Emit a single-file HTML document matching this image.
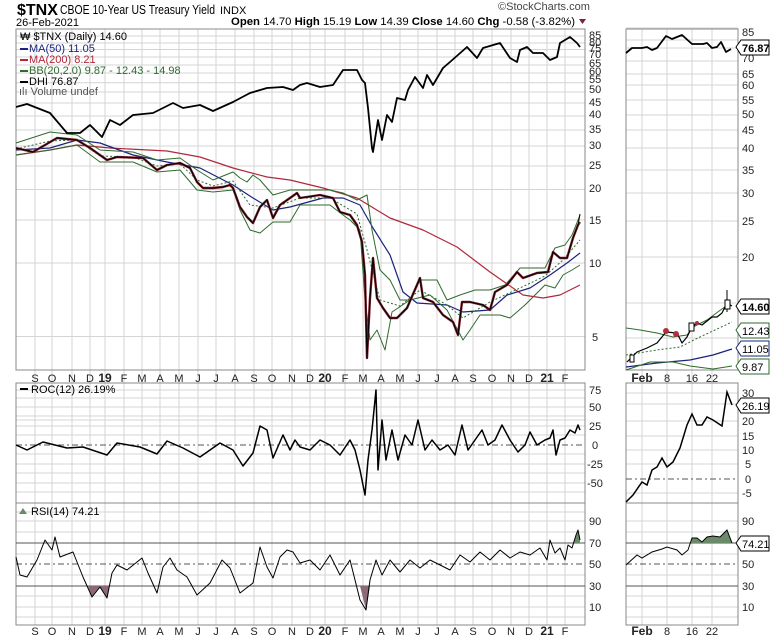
<!DOCTYPE html>
<html><head><meta charset="utf-8"><style>
body{margin:0;background:#fff}
svg{display:block;font-family:"Liberation Sans",Arial,sans-serif}
.g{stroke:#d4d4d4;stroke-width:1}
.ax{font-size:11px;fill:#222}
</style></head><body>
<svg width="770" height="639" viewBox="0 0 770 639" xmlns="http://www.w3.org/2000/svg">
<rect width="770" height="639" fill="#fff"/>
<!-- header -->
<text x="17" y="15" font-size="16" font-weight="bold">$TNX</text>
<text x="60" y="14" font-size="13" textLength="155" lengthAdjust="spacingAndGlyphs">CBOE 10-Year US Treasury Yield</text>
<text x="220" y="14" font-size="11">INDX</text>
<text x="16" y="26" font-size="11">26-Feb-2021</text>
<text x="498" y="10" font-size="11" fill="#444">©StockCharts.com</text>
<text x="231" y="25" font-size="11" textLength="344" lengthAdjust="spacingAndGlyphs"><tspan font-weight="bold">Open</tspan> 14.70 <tspan font-weight="bold">High</tspan> 15.19 <tspan font-weight="bold">Low</tspan> 14.39 <tspan font-weight="bold">Close</tspan> 14.60 <tspan font-weight="bold">Chg</tspan> -0.58 (-3.82%)</text>
<path d="M579 19 L586 19 L582.5 24 Z" fill="#7a2040"/>

<!-- grids main -->
<g class="g">
<path d="M16 36H585M16 43H585M16 49.5H585M16 57H585M16 65H585M16 73H585M16 82.7H585M16 92H585M16 103H585M16 116H585M16 130H585M16 146H585M16 166H585M16 189.5H585M16 220H585M16 263H585M16 336.5H585"/>
<path d="M16 420H585M16 407H585M16 426H585M16 464H585M16 483H585M16 390H585M16 398H585M16 416H585M16 435H585M16 454H585M16 473H585M16 492H585"/>
<path d="M16 521H585M16 532H585M16 554H585M16 575H585M16 596H585M16 607H585M16 617H585M16 512H585"/>
<path d="M35 29V625M52 29V625M72 29V625M90 29V625M105 29V625M124 29V625M142 29V625M160 29V625M179 29V625M198 29V625M216 29V625M235 29V625M254 29V625M272 29V625M292 29V625M310 29V625M325 29V625M345 29V625M363 29V625M381 29V625M400 29V625M418 29V625M437 29V625M455 29V625M473 29V625M492 29V625M511 29V625M529 29V625M547 29V625M565 29V625"/>
<path d="M626 28H738M626 40H738M626 48H738M626 61H738M626 74H738M626 85H738M626 100H738M626 115H738M626 130H738M626 148H738M626 170H738M626 193H738M626 221H738M626 257H738M626 303H738M626 338H738"/>
<path d="M626 393H738M626 404H738M626 421H738M626 436H738M626 450H738M626 464H738M626 493H738"/>
<path d="M626 521H738M626 532H738M626 554H738M626 575H738M626 596H738M626 607H738M626 617H738"/>
<path d="M642 29V625M667 29V625M692 29V625M712 29V625"/>
</g>
<!-- panel frames -->
<g fill="none" stroke="#888">
<rect x="16" y="29" width="569" height="341"/>
<rect x="16" y="383" width="569" height="120"/>
<rect x="16" y="503" width="569" height="122"/>
<rect x="626" y="29" width="112" height="341"/>
<rect x="626" y="383" width="112" height="120"/>
<rect x="626" y="503" width="112" height="122"/>
</g>

<!-- legend -->
<g font-size="11">
<text x="20" y="40">₩ $TNX (Daily) 14.60</text>
<rect x="20" y="48" width="8" height="2" fill="#1a237e"/><text x="29" y="52" fill="#1a237e">MA(50) 11.05</text>
<rect x="20" y="59" width="8" height="2" fill="#b0283a"/><text x="29" y="63" fill="#b0283a">MA(200) 8.21</text>
<rect x="20" y="70" width="8" height="2" fill="#2e6b2e"/><text x="29" y="74" fill="#2e6b2e">BB(20,2.0) 9.87 - 12.43 - 14.98</text>
<rect x="20" y="81" width="8" height="2" fill="#000"/><text x="29" y="85">DHI 76.87</text>
<text x="19" y="95" fill="#555">ılı Volume undef</text>
<rect x="20" y="388" width="8" height="2" fill="#000"/><text x="31" y="393">ROC(12) 26.19%</text>
<path d="M19 514 L23 508 L27 514Z" fill="#6a8a6a"/><text x="31" y="515">RSI(14) 74.21</text>
</g>

<!-- main series -->
<g fill="none" stroke-linejoin="round">
<polyline stroke="#b0283a" stroke-width="1.2" points="16,155 50,150 77,145 110,148 167,151 200,157 233,168 267,177 290,180 323,188 357,198 390,218 423,230 457,247 490,272 523,295 543,298 560,295 580,285"/>
<polyline stroke="#1a237e" stroke-width="1.2" points="16,150 50,148 77,140 100,143 133,155 167,162 200,168 233,185 253,198 273,210 290,207 323,198 343,198 360,205 373,228 390,255 403,292 417,303 447,305 463,312 490,310 507,295 530,288 550,275 567,263 580,253"/>
<polyline stroke="#2e6b2e" stroke-width="1" points="16,143 50,132 77,135 100,150 133,152 157,160 180,158 197,170 213,180 233,172 240,178 247,182 253,175 260,180 273,195 290,190 300,190 330,190 343,193 357,200 367,195 372,230 380,270 390,280 400,300 410,300 420,280 437,280 447,300 460,295 475,290 490,290 505,285 520,268 545,268 555,248 565,245 572,235 580,215"/>
<polyline stroke="#2e6b2e" stroke-width="1" points="16,155 50,150 77,145 100,162 133,162 157,172 180,170 197,190 213,192 233,190 240,210 250,230 260,233 273,222 290,222 300,205 330,205 343,215 350,220 360,230 365,300 370,340 377,330 385,350 392,312 410,300 430,295 447,310 455,325 463,340 470,330 480,315 500,315 510,318 525,305 545,285 555,288 563,275 572,270 580,265"/>
<polyline stroke="#2e6b2e" stroke-width="1" stroke-dasharray="2,2" points="16,149 50,141 77,140 100,156 133,157 157,166 180,164 197,180 213,186 233,181 250,205 273,208 300,198 330,198 357,214 367,250 380,300 400,306 420,290 447,305 463,318 490,302 520,288 545,276 563,260 580,240"/>
<polyline stroke="#7a1f2b" stroke-width="2.4" points="16,148 33,152 57,138 77,140 90,148 107,160 117,157 143,158 157,170 167,165 180,163 190,168 197,182 203,188 213,188 223,187 230,185 233,188 240,207 247,217 253,223 260,207 267,200 273,218 280,205 290,198 297,193 300,198 320,195 333,198 340,212 350,215 357,225 362,242 365,275 367,358 370,298 373,258 377,298 383,308 390,318 397,318 407,308 420,278 423,298 433,302 443,315 453,322 458,335 462,302 470,302 483,305 490,310 495,292 507,285 517,272 523,278 537,273 548,272 553,252 560,258 567,258 573,238 578,225 580,222"/>
<polyline stroke="#000" stroke-width="1" points="16,148 33,152 57,138 77,140 90,148 107,160 117,157 143,158 157,170 167,165 180,163 190,168 197,182 203,188 213,188 223,187 230,185 233,188 240,207 247,217 253,223 260,207 267,200 273,218 280,205 290,198 297,193 300,198 320,195 333,198 340,212 350,215 357,225 362,242 365,275 367,358 370,298 373,258 377,298 383,308 390,318 397,318 407,308 420,278 423,298 433,302 443,315 453,322 458,335 462,302 470,302 483,305 490,310 495,292 507,285 517,272 523,278 537,273 548,272 553,252 560,258 567,258 573,238 578,225 580,214"/>
<polyline stroke="#000" stroke-width="1.8" points="16,107 27,104 50,113 67,133 80,133 90,125 102,137 110,120 120,125 133,115 153,113 173,103 183,108 200,105 213,111 233,102 250,93 267,88 283,87 293,90 300,85 307,83 320,87 333,85 343,70 357,70 362,80 365,83 368,108 372,148 373,152 378,120 382,140 387,115 392,122 397,98 405,100 408,90 415,77 423,88 427,75 433,85 443,68 450,62 467,47 477,58 483,48 500,43 510,58 517,62 520,50 527,47 533,53 543,53 550,60 557,57 560,43 570,37 577,43 580,47"/>
</g>
<!-- main right axis labels -->
<g class="ax">
<text x="589" y="39">85</text><text x="589" y="46">80</text><text x="589" y="52">75</text><text x="589" y="58">70</text><text x="589" y="67">65</text><text x="589" y="75">60</text><text x="589" y="83">55</text><text x="589" y="93">50</text><text x="589" y="106">45</text><text x="589" y="118">40</text><text x="589" y="133">35</text><text x="589" y="149">30</text><text x="589" y="169">25</text><text x="589" y="192">20</text><text x="589" y="224">15</text><text x="589" y="267">10</text><text x="592" y="341">5</text>
</g>
<!-- date axes -->
<g class="ax" text-anchor="middle">
<text x="35" y="382">S</text><text x="52" y="382">O</text><text x="72" y="382">N</text><text x="90" y="382">D</text><text x="105" y="382" font-weight="bold" font-size="12">19</text><text x="124" y="382">F</text><text x="142" y="382">M</text><text x="160" y="382">A</text><text x="179" y="382">M</text><text x="198" y="382">J</text><text x="216" y="382">J</text><text x="235" y="382">A</text><text x="254" y="382">S</text><text x="272" y="382">O</text><text x="292" y="382">N</text><text x="310" y="382">D</text><text x="325" y="382" font-weight="bold" font-size="12">20</text><text x="345" y="382">F</text><text x="363" y="382">M</text><text x="381" y="382">A</text><text x="400" y="382">M</text><text x="418" y="382">J</text><text x="437" y="382">J</text><text x="455" y="382">A</text><text x="473" y="382">S</text><text x="492" y="382">O</text><text x="511" y="382">N</text><text x="529" y="382">D</text><text x="547" y="382" font-weight="bold" font-size="12">21</text><text x="565" y="382">F</text>
<text x="35" y="635">S</text><text x="52" y="635">O</text><text x="72" y="635">N</text><text x="90" y="635">D</text><text x="105" y="635" font-weight="bold" font-size="12">19</text><text x="124" y="635">F</text><text x="142" y="635">M</text><text x="160" y="635">A</text><text x="179" y="635">M</text><text x="198" y="635">J</text><text x="216" y="635">J</text><text x="235" y="635">A</text><text x="254" y="635">S</text><text x="272" y="635">O</text><text x="292" y="635">N</text><text x="310" y="635">D</text><text x="325" y="635" font-weight="bold" font-size="12">20</text><text x="345" y="635">F</text><text x="363" y="635">M</text><text x="381" y="635">A</text><text x="400" y="635">M</text><text x="418" y="635">J</text><text x="437" y="635">J</text><text x="455" y="635">A</text><text x="473" y="635">S</text><text x="492" y="635">O</text><text x="511" y="635">N</text><text x="529" y="635">D</text><text x="547" y="635" font-weight="bold" font-size="12">21</text><text x="565" y="635">F</text>
<text x="642" y="382" font-weight="bold" font-size="12">Feb</text><text x="667" y="382">8</text><text x="692" y="382">16</text><text x="712" y="382">22</text>
<text x="642" y="635" font-weight="bold" font-size="12">Feb</text><text x="667" y="635">8</text><text x="692" y="635">16</text><text x="712" y="635">22</text>
</g>

<!-- ROC -->
<line x1="16" y1="445" x2="585" y2="445" stroke="#555" stroke-dasharray="6,3,2,3"/>
<polyline fill="none" stroke="#000" stroke-width="1.5" stroke-linejoin="round" points="16,445 27,450 43,442 67,448 83,447 107,455 117,443 140,447 157,454 167,441 183,448 200,457 220,443 233,450 243,466 253,453 260,426 267,430 273,458 283,435 290,450 295,440 300,447 310,450 320,440 330,445 340,455 350,440 355,450 360,470 365,495 368,460 372,430 376,390 378,470 382,420 386,460 392,430 398,460 405,435 412,445 418,420 425,450 432,440 440,450 448,445 455,455 462,425 468,450 475,440 482,430 488,445 495,440 502,425 510,440 518,452 525,445 530,432 537,445 545,440 550,438 553,430 556,455 560,440 565,438 570,430 575,433 578,425 580,430"/>
<g class="ax">
<text x="589" y="394">75</text><text x="589" y="411">50</text><text x="589" y="430">25</text><text x="592" y="449">0</text><text x="587" y="468">-25</text><text x="587" y="487">-50</text>
</g>
<!-- RSI -->
<g stroke="#555"><line x1="16" y1="543" x2="585" y2="543"/><line x1="16" y1="586" x2="585" y2="586"/><line x1="16" y1="564" x2="585" y2="564" stroke-dasharray="6,3,2,3"/></g>
<path d="M573 543 L576 535 L578 530 L580 540 L580 543Z" fill="#6a8a6a"/>
<path d="M360 586 L366 610 L370 586Z M88 586 L92 597 L100 587 L107 598 L109 586Z" fill="#8a6a78"/>
<polyline fill="none" stroke="#000" stroke-width="1" stroke-linejoin="round" points="16,557 20,575 27,577 37,560 45,540 52,550 55,537 60,557 73,552 83,577 92,597 100,587 107,598 112,573 117,565 127,570 142,558 148,573 157,593 163,567 170,558 177,570 187,577 197,595 210,583 222,560 230,568 240,593 253,583 260,547 267,567 273,578 280,557 287,550 293,552 300,563 310,560 320,570 330,555 340,575 350,560 355,580 360,600 366,610 370,580 376,560 382,575 390,560 400,572 410,560 420,568 430,560 440,565 450,570 460,555 470,562 480,552 490,560 500,550 510,558 520,552 530,555 540,548 547,560 550,540 555,553 560,548 565,560 568,545 572,548 576,535 578,530 580,540"/>
<g class="ax">
<text x="589" y="525">90</text><text x="589" y="547">70</text><text x="589" y="568">50</text><text x="589" y="590">30</text><text x="589" y="611">10</text>
</g>

<!-- Zoom panel main -->
<g fill="none" stroke-linejoin="round">
<polyline stroke="#000" stroke-width="1.8" points="626,53 632,48 642,48 647,47 652,50 657,48 666,36 672,39 682,35 692,44 703,44 707,43 712,48 717,47 721,42 726,52 731,49"/>
<polyline stroke="#2e6b2e" points="626,328 640,330 657,333 673,337 687,335 693,327 707,320 730,303"/>
<polyline stroke="#2e6b2e" stroke-dasharray="2,2" points="626,355 657,350 680,347 700,337 732,322"/>
<polyline stroke="#1a237e" stroke-width="1.2" points="626,367 657,363 690,360 713,355 732,349"/>
<polyline stroke="#2e6b2e" points="626,370 650,362 673,362 690,366 713,369 732,366"/>
<polyline stroke="#000" stroke-width="1.2" points="627,362 632,357 637,352 647,348 657,343 666,332 677,333 682,343 687,337 692,327 697,323 702,325 707,321 712,317 717,317 722,313 727,303 732,306"/>
<line x1="727" y1="290" x2="727" y2="312" stroke="#000"/>
</g>
<rect x="630" y="355" width="4" height="7" fill="#fff" stroke="#000"/>
<rect x="725" y="300" width="5" height="9" fill="#fff" stroke="#000"/>
<rect x="689" y="323" width="5" height="8" fill="#fff" stroke="#000"/>
<circle cx="666" cy="331" r="3" fill="#b03040"/><circle cx="676" cy="334" r="3" fill="#b03040"/><circle cx="697" cy="323" r="2" fill="#b03040"/>
<g class="ax">
<text x="742" y="36">85</text><text x="742" y="62">70</text><text x="742" y="78">65</text><text x="742" y="89">60</text><text x="742" y="104">55</text><text x="742" y="118">50</text><text x="742" y="134">45</text><text x="742" y="152">40</text><text x="742" y="174">35</text><text x="742" y="197">30</text><text x="742" y="225">25</text><text x="742" y="261">20</text>
</g>
<!-- tags -->
<g font-size="11">
<path d="M736 47 L741 40 L769 40 L769 55 L741 55 Z" fill="#fff" stroke="#000"/><text x="742" y="52" font-weight="bold">76.87</text>
<path d="M736 306 L741 299 L769 299 L769 314 L741 314 Z" fill="#fff" stroke="#000"/><text x="742" y="311" font-weight="bold">14.60</text>
<path d="M736 330 L741 323 L769 323 L769 338 L741 338 Z" fill="#fff" stroke="#2e6b2e"/><text x="742" y="335">12.43</text>
<path d="M736 348 L741 341 L769 341 L769 356 L741 356 Z" fill="#fff" stroke="#1a237e"/><text x="742" y="353">11.05</text>
<path d="M736 366 L741 359 L769 359 L769 374 L741 374 Z" fill="#fff" stroke="#2e6b2e"/><text x="742" y="371">9.87</text>
</g>
<!-- zoom ROC -->
<line x1="626" y1="479" x2="738" y2="479" stroke="#555" stroke-dasharray="6,3,2,3"/>
<polyline fill="none" stroke="#000" stroke-width="1.5" points="626,502 633,495 642,482 647,485 652,470 657,467 662,458 667,467 673,462 680,448 687,425 692,414 697,425 702,425 707,417 713,420 722,426 727,392 732,405"/>
<g class="ax">
<text x="742" y="397">30</text><text x="742" y="425">20</text><text x="742" y="440">15</text><text x="742" y="454">10</text><text x="745" y="468">5</text><text x="745" y="483">0</text><text x="742" y="497">-5</text>
</g>
<path d="M736 405 L741 398 L769 398 L769 413 L741 413 Z" fill="#fff" stroke="#000"/><text x="742" y="410" font-size="11">26.19</text>
<!-- zoom RSI -->
<g stroke="#555"><line x1="626" y1="543" x2="738" y2="543"/><line x1="626" y1="586" x2="738" y2="586"/><line x1="626" y1="564" x2="738" y2="564" stroke-dasharray="6,3,2,3"/></g>
<path d="M691 543 L692 538 L697 538 L702 542 L707 537 L713 536 L720 537 L727 530 L732 543 Z" fill="#6a8a6a"/>
<polyline fill="none" stroke="#000" points="626,565 637,555 642,558 652,552 662,549 667,547 677,550 682,555 688,550 692,538 697,538 702,542 707,537 713,536 720,537 727,530 732,543"/>
<g class="ax">
<text x="742" y="525">90</text><text x="742" y="568">50</text><text x="742" y="590">30</text><text x="742" y="611">10</text>
</g>
<path d="M736 543 L741 536 L769 536 L769 551 L741 551 Z" fill="#fff" stroke="#000"/><text x="742" y="548" font-size="11">74.21</text>
</svg>
</body></html>
